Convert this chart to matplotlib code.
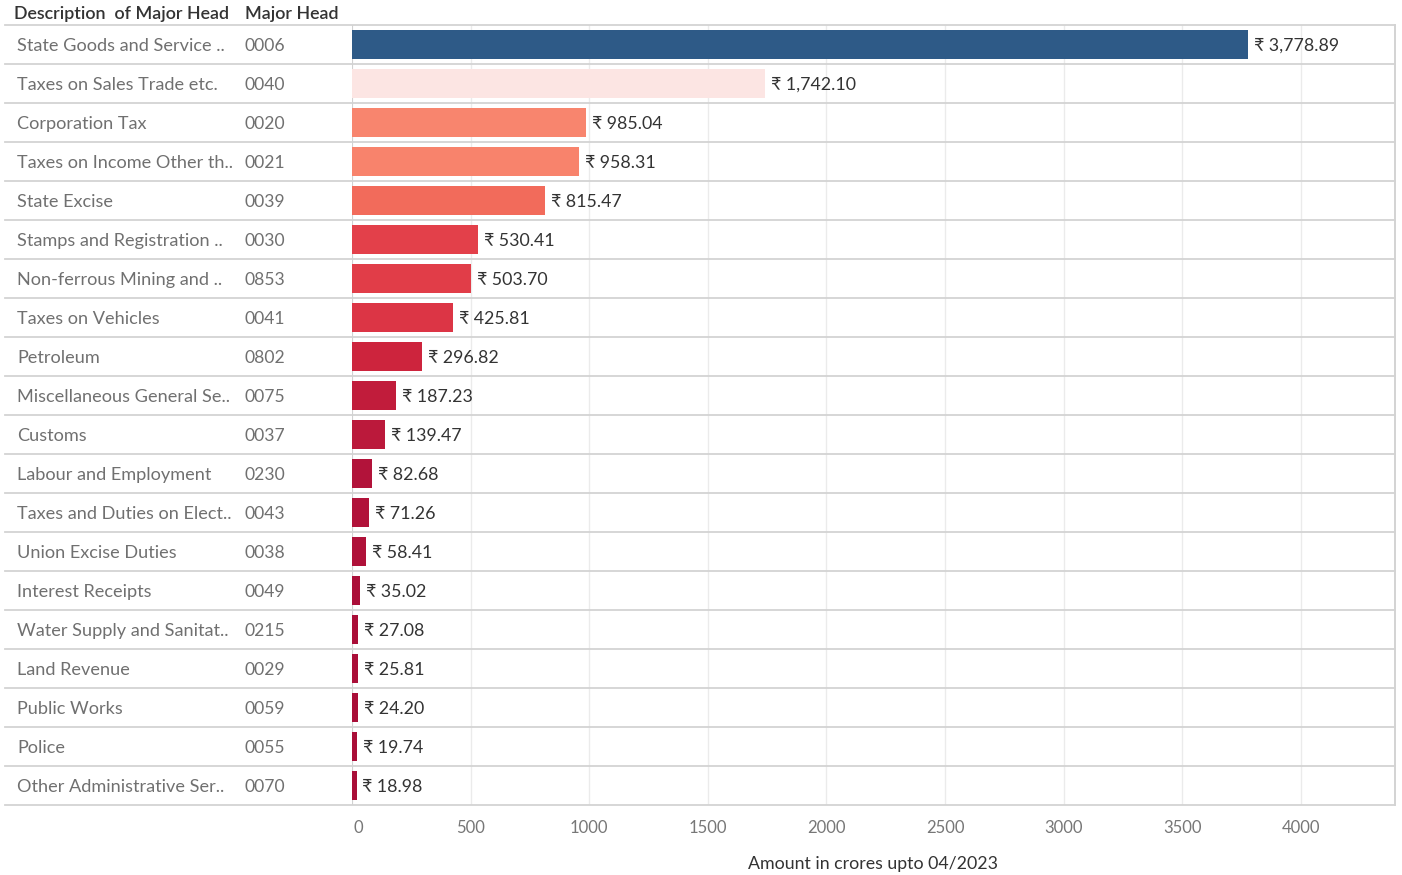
import matplotlib
matplotlib.use("Agg")
import matplotlib.pyplot as plt
from matplotlib.transforms import blended_transform_factory, ScaledTranslation
from matplotlib.lines import Line2D

descriptions = [
    "State Goods and Service ..", "Taxes on Sales Trade etc.", "Corporation Tax",
    "Taxes on Income Other th..", "State Excise", "Stamps and Registration ..",
    "Non-ferrous Mining and ..", "Taxes on Vehicles", "Petroleum",
    "Miscellaneous General Se..", "Customs", "Labour and Employment",
    "Taxes and Duties on Elect..", "Union Excise Duties", "Interest Receipts",
    "Water Supply and Sanitat..", "Land Revenue", "Public Works", "Police",
    "Other Administrative Ser..",
]
codes = ["0006", "0040", "0020", "0021", "0039", "0030", "0853", "0041", "0802",
         "0075", "0037", "0230", "0043", "0038", "0049", "0215", "0029", "0059",
         "0055", "0070"]
amounts = [3778.89, 1742.10, 985.04, 958.31, 815.47, 530.41, 503.70, 425.81,
           296.82, 187.23, 139.47, 82.68, 71.26, 58.41, 35.02, 27.08, 25.81,
           24.20, 19.74, 18.98]
bar_colors = ["#2E5A87", "#FCE5E3", "#F8856E", "#F8836C", "#F26B5B", "#E3404A",
              "#E13D48", "#DC3545", "#CD243D", "#C11C3B", "#BB193B", "#B2133A",
              "#B1123A", "#AF1139", "#AB0F39", "#AA0E38", "#AA0E38", "#A90E38",
              "#A90E38", "#A90E38"]
x_ticks = [0, 500, 1000, 1500, 2000, 2500, 3000, 3500, 4000]
x_title = "Amount in crores upto 04/2023"

FONT = ["Lato", "DejaVu Sans"]
plt.rcParams["font.family"] = FONT

W, H = 1402, 875
fig = plt.figure(figsize=(W / 100, H / 100), dpi=100)
left_px, right_px, top_px, bot_px = 352, 1395, 25, 805
ax = fig.add_axes([left_px / W, 1 - bot_px / H, (right_px - left_px) / W, (bot_px - top_px) / H])

n = len(amounts)
ys = list(range(n))
ax.barh(ys, amounts, height=0.72, color=bar_colors, zorder=3)
ax.set_xlim(0, 4397)
ax.set_ylim(n - 0.5, -0.5)

dy = 0.04
for y, v in zip(ys, amounts):
    ax.text(v + 25, y + dy, f"\u20b9 {v:,.2f}", va="center", ha="left", fontsize=12.8,
            color="#333333", zorder=4)

ax.set_xticks(x_ticks)
ax.set_xticklabels([str(t) for t in x_ticks], fontsize=12, color="#777777")
ax.tick_params(axis="x", length=0, pad=11)
lab0 = ax.get_xticklabels()[0]
lab0.set_transform(lab0.get_transform() + ScaledTranslation(6 / 100, 0, fig.dpi_scale_trans))
ax.set_yticks([])
ax.grid(axis="x", color="#EBEBEB", linewidth=1, zorder=0)
for s in ax.spines.values():
    s.set_visible(False)
ax.axvline(0, color="#CCCCCC", linewidth=1.2, zorder=2)
ax.axvline(4397, color="#CCCCCC", linewidth=1.2, zorder=2, clip_on=False)
ax.set_xlabel(x_title, fontsize=12.8, color="#333333", labelpad=14)

tr = blended_transform_factory(fig.transFigure, ax.transData)
for b in [y - 0.5 for y in ys] + [n - 0.5]:
    fig.add_artist(Line2D([5 / W, right_px / W], [b, b], transform=tr,
                          color="#D3D3D3", linewidth=1.3, zorder=1))

for y, d, c in zip(ys, descriptions, codes):
    ax.text(17 / W, y + dy, d, transform=tr, va="center", ha="left", fontsize=13.1,
            color="#707070", clip_on=False)
    ax.text(245 / W, y + dy, c, transform=tr, va="center", ha="left", fontsize=12.6,
            color="#707070", clip_on=False)

fig.text(14 / W, 1 - 13.5 / H, "Description  of Major Head", va="center", ha="left",
         fontsize=12.9, color="#333333", fontweight="semibold")
fig.text(245 / W, 1 - 13.5 / H, "Major Head", va="center", ha="left",
         fontsize=12.9, color="#333333", fontweight="semibold")

fig.savefig("out.png", dpi=100, facecolor="white")
